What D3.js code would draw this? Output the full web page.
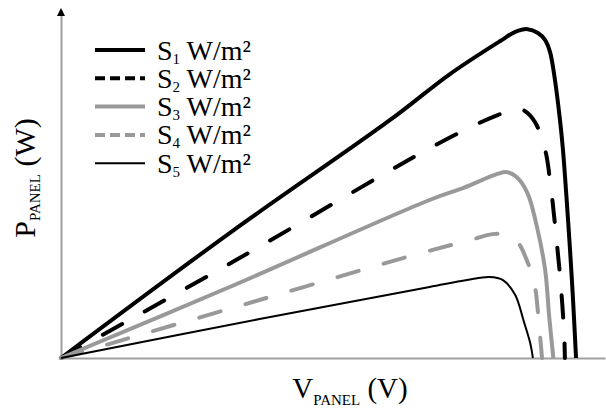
<!DOCTYPE html>
<html lang="en">
<head>
    <meta charset="UTF-8">
    <title>P-V curves</title>
    <script src="https://d3js.org/d3.v7.min.js"></script>
    <style>
        body {
            margin: 0;
            background: #fff;
        }
        svg {
            display: block;
            font-family: "Liberation Serif", "Times New Roman", serif;
        }
        .axis path {
            stroke: #a0a0a0;
            stroke-width: 2;
        }
    </style>
</head>
<body>
    <svg id="chart" width="606" height="419"></svg>

    <script>
        // Irradiance levels (legend order)
        const seriesNames = ["1", "2", "3", "4", "5"];

        // Panel voltage (arbitrary units)
        const v1 = [0, 12.4, 24.2, 28.6, 32.3, 33.4, 34.3, 35.07, 35.59, 35.96, 36.32, 36.69, 36.91, 37.13, 37.43, 37.65, 37.87];
        const v2 = [0, 12.9, 26.6, 30.3, 32.1, 33.4, 34.1, 34.85, 35.6, 36.0, 36.4, 36.75, 37.0, 37.05];
        const v3 = [0, 12.4, 27.1, 29.6, 32.1, 32.8, 33.5, 34.3, 35.0, 35.6, 35.9, 36.2];
        const v4 = [0, 14.1, 26.5, 30.1, 31.7, 32.4, 33.5, 34.3, 34.85, 35.07, 35.22, 35.37];
        const v5 = [0, 14.6, 27.1, 29.85, 31.5, 32.5, 33.4, 34.0, 34.5, 34.7];

        // Panel power (percent of plot height)
        const p1 = [0, 35.9, 68.4, 81.6, 91.1, 93.7, 94.5, 93.4, 91.4, 87.9, 79.9, 68.4, 59.8, 48.3, 31.0, 16.7, 0];
        const p2 = [0, 28.2, 59.2, 66.7, 69.8, 71.6, 71.0, 67.8, 59.8, 49.7, 35.3, 21.0, 6.6, 0];
        const p3 = [0, 20.4, 45.4, 48.9, 52.9, 53.4, 52.0, 47.4, 37.6, 25.3, 11.8, 0];
        const p4 = [0, 16.1, 30.2, 33.9, 35.6, 35.6, 33.6, 27.6, 20.4, 13.2, 6.6, 0];
        const p5 = [0, 11.2, 20.4, 22.4, 23.3, 22.4, 18.1, 10.9, 4.3, 0];

        const voltages = [v1, v2, v3, v4, v5];
        const powers = [p1, p2, p3, p4, p5];

        // Look of each curve
        const styles = [
            { color: "#000", width: 4, dash: null, legendDash: null },
            { color: "#000", width: 4, dash: "22,26", legendDash: "10,5" },
            { color: "#999", width: 4, dash: null, legendDash: null },
            { color: "#999", width: 4, dash: "22,26", legendDash: "10,5" },
            { color: "#000", width: 2, dash: null, legendDash: null }
        ];

        const svg = d3.select("#chart");

        const x = d3.scaleLinear().domain([0, 40]).range([61, 605]);
        const y = d3.scaleLinear().domain([0, 100]).range([358, 10]);

        // Axes: plain lines, no ticks
        svg.append("g")
           .attr("class", "axis")
           .attr("transform", `translate(0,${y(0)})`)
           .call(d3.axisBottom(x).tickValues([]).tickSizeOuter(0));

        svg.append("g")
           .attr("class", "axis")
           .attr("transform", `translate(${x(0)},0)`)
           .call(d3.axisLeft(y).tickValues([]).tickSizeOuter(0));

        // Arrow heads
        svg.append("path")
           .attr("d", `M${x(0) - 4},${y(100) + 6} L${x(0)},${y(100) - 2} L${x(0) + 4},${y(100) + 6} Z`)
           .attr("fill", "#000");
        svg.append("path")
           .attr("d", `M${x(40) + 1},${y(0) - 4} L${x(40) + 9},${y(0)} L${x(40) + 1},${y(0) + 4} Z`)
           .attr("fill", "#000");

        // Curves
        const line = d3.line()
                       .x(d => x(d[0]))
                       .y(d => y(d[1]))
                       .curve(d3.curveCatmullRom.alpha(0.5));

        seriesNames.forEach((s, i) => {
            const pts = voltages[i].map((v, j) => [v, powers[i][j]]);
            svg.append("path")
               .datum(pts)
               .attr("d", line)
               .attr("fill", "none")
               .attr("stroke", styles[i].color)
               .attr("stroke-width", styles[i].width)
               .attr("stroke-linecap", styles[i].dash ? "round" : "butt")
               .attr("stroke-dasharray", styles[i].dash);
        });

        // Legend
        const legend = svg.append("g").attr("transform", "translate(95,50)");
        seriesNames.forEach((s, i) => {
            const row = legend.append("g").attr("transform", `translate(0,${i * 28.3})`);
            row.append("line")
               .attr("x1", 0).attr("x2", 50)
               .attr("stroke", styles[i].color)
               .attr("stroke-width", styles[i].width)
               .attr("stroke-dasharray", styles[i].legendDash);
            const t = row.append("text")
               .attr("x", 62)
               .attr("y", 9.5)
               .attr("font-size", 28)
               .attr("fill", "#000");
            t.append("tspan").text("S");
            t.append("tspan").attr("font-size", 15).attr("dy", 4).text(s);
            t.append("tspan").attr("dy", -4).text(" W/m²");
        });

        // Axis titles
        const yTitle = svg.append("text")
           .attr("transform", "translate(35,178) rotate(-90)")
           .attr("text-anchor", "middle")
           .attr("font-size", 30)
           .attr("fill", "#000");
        yTitle.append("tspan").text("P");
        yTitle.append("tspan").attr("font-size", 15).attr("dy", 5).text("PANEL");
        yTitle.append("tspan").attr("dy", -5).text(" (W)");

        const xTitle = svg.append("text")
           .attr("x", 350)
           .attr("y", 398)
           .attr("text-anchor", "middle")
           .attr("font-size", 29)
           .attr("fill", "#000");
        xTitle.append("tspan").text("V");
        xTitle.append("tspan").attr("font-size", 15).attr("dy", 7).text("PANEL");
        xTitle.append("tspan").attr("dy", -7).text(" (V)");
    </script>
</body>
</html>
